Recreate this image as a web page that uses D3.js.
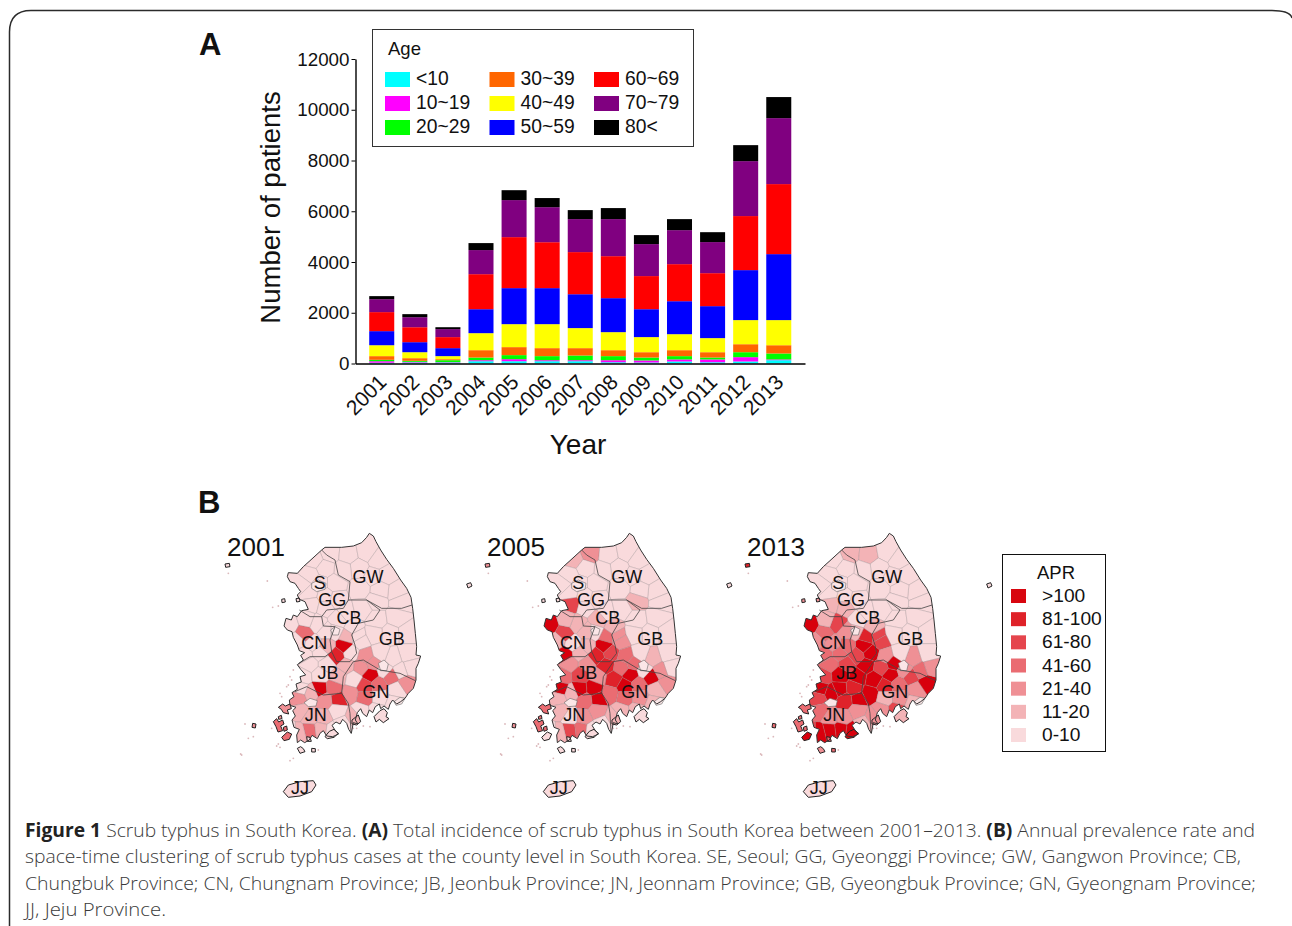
<!DOCTYPE html>
<html>
<head>
<meta charset="utf-8">
<title>Figure 1</title>
<script src="https://d3js.org/d3.v7.min.js"></script>
<style>
  body { margin: 0; background: #fff; }
  svg { display: block; }
  text { font-family: "Liberation Sans", Arial, sans-serif; fill: #111; }
  .caption text, .caption tspan { font-family: "Open Sans", sans-serif; fill: #3a3a3a; }
</style>
</head>
<body>
<svg id="fig" width="1292" height="926"></svg>
<script>
// ---- panel A data (patients per age group)
const years = [2001,2002,2003,2004,2005,2006,2007,2008,2009,2010,2011,2012,2013];
const ageLabels = ["<10","10~19","20~29","30~39","40~49","50~59","60~69","70~79","80<"];
const ageColors = ["#00ffff","#ff00ff","#00ff00","#ff6600","#ffff00","#0000ff","#ff0000","#800080","#000000"];
const under10 = [30,40,40,90,90,90,90,50,40,80,50,80,130];
const age10s  = [60,25,15,40,80,40,40,80,80,80,110,170,30];
const age20s  = [55,40,75,105,160,160,185,160,115,130,75,195,235];
const age30s  = [145,105,40,290,315,315,290,235,210,235,210,315,325];
const age40s  = [430,235,120,670,905,945,790,710,595,630,555,950,990];
const age50s  = [555,395,315,945,1420,1420,1335,1340,1100,1300,1260,1970,2600];
const age60s  = [750,590,435,1380,2010,1810,1660,1655,1305,1460,1300,2130,2760];
const age70s  = [510,395,315,950,1460,1380,1300,1460,1260,1340,1225,2165,2600];
const age80s  = [120,120,75,275,390,360,355,435,355,435,390,630,830];
const ageSeries = [under10,age10s,age20s,age30s,age40s,age50s,age60s,age70s,age80s];
const yTicks = [0,2000,4000,6000,8000,10000,12000];

// ---- panel B data
const mapYears = ["2001","2005","2013"];
const aprLabels = [">100","81-100","61-80","41-60","21-40","11-20","0-10"];
const aprColors = ["#d8060f","#df2229","#e5454d","#ea6c72","#ef9095","#f3b3b6","#f9dadc"];
// county centres in map units (1 unit = 1/3 px), with APR class per map year: 0 = 0-10 ... 6 = >100
const counties = [
  [360,100,0,2,1],[415,105,0,0,1],[470,95,0,0,0],[505,120,0,0,0],[530,165,0,0,0],[445,145,0,0,0],[400,150,0,0,0],
  [490,170,0,0,0],[560,215,0,0,0],[510,210,0,0,0],[450,205,0,0,0],[500,242,0,1,0],[572,245,0,0,0],
  [312,120,0,1,0],[345,145,0,0,0],[300,165,0,0,0],[330,190,0,0,0],[278,195,0,0,0],[375,190,0,0,0],[380,238,0,0,0],
  [300,218,0,0,0],[345,228,0,0,0],[305,252,0,4,1],[345,262,0,0,1],
  [410,278,0,0,0],[455,268,0,0,0],[385,300,0,1,0],[430,322,0,1,1],[375,335,0,0,1],[410,352,1,3,5],[403,377,6,6,6],
  [445,350,0,2,4],
  [238,315,0,6,6],[282,340,3,4,3],[322,310,0,1,4],[290,298,0,1,1],[262,362,0,1,2],[350,335,0,1,2],[350,378,1,1,3],
  [310,372,0,0,2],[285,405,0,6,3],[330,400,0,1,3],[380,407,5,5,4],[422,398,0,4,6],
  [300,432,0,2,3],[350,432,0,2,4],[408,437,1,5,6],[280,470,0,3,4],[330,465,0,4,6],[385,470,1,2,6],[272,506,0,6,6],
  [328,508,6,6,6],[372,505,3,6,5],[385,537,5,6,6],
  [265,535,2,1,4],[305,518,1,1,6],[345,542,2,3,5],[382,572,0,2,2],[272,572,1,1,3],[302,592,1,0,2],[340,592,1,2,2],
  [300,632,3,4,6],[268,640,1,1,6],[332,628,1,3,6],[366,632,0,0,6],[398,612,0,0,1],[243,640,0,0,4],
  [455,442,2,3,4],[482,465,6,6,6],[432,478,0,5,6],[420,522,2,3,6],[465,497,4,6,5],[505,492,3,3,3],[542,468,3,6,4],
  [465,532,3,3,1],[510,532,0,2,2],[560,510,0,1,2],[590,490,2,2,6],[452,572,0,1,2],[500,572,0,1,4],[552,548,0,1,1],
  [432,590,1,1,2],
  [500,300,0,0,0],[560,292,0,0,0],[592,340,0,0,0],[540,342,0,0,0],[492,342,0,0,0],[452,362,0,2,4],[592,402,0,0,0],
  [550,415,0,1,2],[510,400,0,0,0],[468,410,2,3,2],[602,442,0,0,2],[572,452,0,2,3],[490,430,2,3,6],[525,452,0,0,2]
];
// mainland coastline, map units
const coast = [
  [335,90],[345,82],[395,82],[430,78],[455,68],[470,52],[478,40],[490,48],[498,65],[512,90],[530,118],[550,145],
  [572,180],[590,205],[603,232],[608,265],[612,300],[616,340],[620,380],[618,405],[632,408],[625,430],[618,445],
  [618,480],[610,505],[595,520],[585,535],[572,545],[560,552],[548,540],[540,552],[535,568],[522,558],[512,566],
  [508,552],[496,560],[488,578],[478,570],[470,590],[458,580],[452,566],[442,578],[436,600],[444,612],[430,608],
  [424,640],[416,628],[410,610],[398,598],[390,612],[378,606],[366,616],[376,632],[386,642],[368,650],[350,648],
  [340,632],[330,640],[322,656],[306,646],[298,660],[284,668],[272,660],[262,668],[260,645],[268,628],[252,622],
  [246,600],[256,588],[248,572],[258,562],[240,556],[238,540],[252,530],[246,518],[262,508],[258,492],[274,486],
  [270,470],[287,465],[272,448],[262,434],[280,420],[272,406],[284,398],[268,392],[262,375],[250,352],[246,335],
  [232,330],[222,318],[228,295],[244,300],[250,285],[262,290],[275,272],[295,268],[285,245],[268,238],[262,225],
  [272,215],[265,205],[255,190],[240,185],[232,170],[235,158],[262,160],[280,140],[300,122]
];
// province borders, map units
const borders = [
  [[335,90],[350,105],[375,120],[385,165],[420,185],[415,240],[470,240],[515,265],[575,265],[606,255]],
  [[415,240],[400,265],[350,270],[335,290],[300,290],[268,270]],
  [[335,290],[340,318],[375,320],[360,360],[365,395],[345,410],[300,410],[267,430]],
  [[470,240],[510,270],[490,300],[445,310],[425,345],[435,375],[440,400],[420,425],[380,425],[365,395]],
  [[430,425],[400,470],[395,520],[415,550],[420,580],[423,640]],
  [[255,515],[290,500],[340,525],[395,520]],
  [[430,425],[460,420],[510,450],[570,460],[616,482]]
];
// enclosed cities (Seoul, Daejeon, Daegu, Gwangju, Busan side), map units
const cities = [
  [[305,190],[325,180],[348,190],[345,208],[320,215],[305,205]],
  [[362,330],[375,320],[390,328],[385,345],[368,345]],
  [[505,430],[522,420],[535,432],[530,452],[512,452]],
  [[282,548],[300,535],[322,542],[318,558],[295,560]],
  [[552,545],[570,532],[585,535],[575,552],[558,556]]
];
// islands with APR class per map year
const islands = [
  [[[220,815],[235,795],[270,785],[310,782],[318,795],[305,815],[270,828],[235,832]],0,0,0],
  [[[510,572],[522,566],[532,578],[528,590],[537,596],[520,608],[508,598],[498,606],[492,590]],0,0,1],
  [[[426,600],[445,585],[452,605],[440,615],[426,612]],1,1,2],
  [[[190,605],[200,596],[206,606],[218,600],[222,612],[212,618],[218,632],[204,636],[198,620]],3,3,3],
  [[[205,562],[218,552],[226,558],[240,552],[244,566],[232,570],[236,582],[220,578],[214,568]],2,3,3],
  [[[215,652],[232,636],[245,642],[238,658],[222,662]],3,0,6],
  [[[345,650],[358,634],[372,628],[385,640],[372,652],[352,656]],0,0,6],
  [[[262,685],[272,680],[280,686],[285,695],[270,700]],0,0,2],
  [[[305,685],[316,686],[316,696],[305,696]],0,0,3],
  [[[128,610],[138,612],[136,624],[126,622]],2,2,3],
  [[[45,132],[58,130],[60,140],[47,142]],0,2,5],
  [[[770,192],[782,188],[786,198],[774,204]],0,0,0],
  [[[215,238],[224,236],[226,246],[216,248]],0,0,2],
  [[[258,236],[268,234],[270,244],[260,246]],0,0,2],
  [[[290,650],[300,652],[304,664],[292,664]],0,0,3],
  [[[205,590],[214,586],[216,596],[206,598]],2,3,3],
  [[[220,622],[230,618],[232,630],[222,634]],3,3,3]
];
const specks = [
  [55,160],[172,183],[205,258],[188,262],[105,612],[115,655],[95,705],[240,722],[185,625],
  [205,672],[325,690],[250,715],[430,625],[480,620],[230,500],[245,480],[250,450],[210,520],[240,470],[215,530],
  [235,495],[200,678],[210,682],[440,625],[460,618],[130,650],[92,702]
];
// province labels: text, x, baseline in map units
const provLabels = [
  ["S",329,208],["GG",367,258],["GW",474,190],["CB",417,313],["CN",313,388],
  ["GB",545,376],["JB",354,478],["GN",498,534],["JN",317,604],["JJ",270,822]
];
const captionLines = [
  [["Figure 1",1]," Scrub typhus in South Korea. ",["(A)",1]," Total incidence of scrub typhus in South Korea between 2001–2013. ",["(B)",1]," Annual prevalence rate and"],
  ["space-time clustering of scrub typhus cases at the county level in South Korea. SE, Seoul; GG, Gyeonggi Province; GW, Gangwon Province; CB,"],
  ["Chungbuk Province; CN, Chungnam Province; JB, Jeonbuk Province; JN, Jeonnam Province; GB, Gyeongbuk Province; GN, Gyeongnam Province;"],
  ["JJ, Jeju Province."]
];

const svg = d3.select("#fig");

// card frame
svg.append("path")
  .attr("d", "M9.5,926V32Q9.5,10.5 31,10.5H1272Q1290,10.5 1292,18")
  .attr("fill", "none").attr("stroke", "#2b2b2b").attr("stroke-width", 1.5);

// ---------- panel A
const table = years.map((y, i) => {
  const row = {year: y};
  ageLabels.forEach((a, k) => row[a] = ageSeries[k][i]);
  return row;
});
const stacked = d3.stack().keys(ageLabels)(table);

const x = d3.scaleBand().domain(years).range([355.5, 805]).paddingInner(0.244).paddingOuter(0.415);
const y = d3.scaleLinear().domain([0, 12000]).range([363.5, 59]);

const bars = svg.append("g");
bars.selectAll("g").data(stacked).join("g")
  .attr("fill", (d, i) => ageColors[i])
  .selectAll("rect").data(d => d).join("rect")
  .attr("x", d => x(d.data.year))
  .attr("width", x.bandwidth())
  .attr("y", d => y(d[1]))
  .attr("height", d => y(d[0]) - y(d[1]));

const yAxis = svg.append("g").attr("transform", "translate(355.5,0)")
  .call(d3.axisLeft(y).tickValues(yTicks).tickSize(4).tickPadding(2).tickSizeOuter(0).tickFormat(d3.format("d")));
yAxis.selectAll("text").style("font-size", "18.8px");
const xAxis = svg.append("g").attr("transform", "translate(0,363.5)")
  .call(d3.axisBottom(x).tickSize(0).tickSizeOuter(0));
xAxis.selectAll("text")
  .style("font-size", "21px")
  .attr("text-anchor", "end")
  .attr("dy", null)
  .attr("y", 0)
  .attr("transform", d => "translate(6,20) rotate(-45)");
svg.selectAll(".domain").attr("stroke", "#000").attr("stroke-width", 1.4);
svg.selectAll(".tick line").attr("stroke", "#000");

svg.append("text").attr("transform", "translate(280,207.5) rotate(-90)")
  .attr("text-anchor", "middle").style("font-size", "27.5px").text("Number of patients");
svg.append("text").attr("x", 578).attr("y", 454)
  .attr("text-anchor", "middle").style("font-size", "28px").text("Year");
svg.append("text").attr("x", 199).attr("y", 55)
  .style("font-size", "31px").style("font-weight", "bold").text("A");
svg.append("text").attr("x", 198).attr("y", 513)
  .style("font-size", "31px").style("font-weight", "bold").text("B");

// age legend
const ageLegend = svg.append("g");
ageLegend.append("rect").attr("x", 372.5).attr("y", 29.5).attr("width", 321).attr("height", 117)
  .attr("fill", "#fff").attr("stroke", "#333").attr("stroke-width", 1);
ageLegend.append("text").attr("x", 388).attr("y", 55).style("font-size", "18.5px").text("Age");
const legCol = d3.scaleOrdinal().domain([0,1,2]).range([385,489.5,594]);
const legRow = d3.scaleOrdinal().domain([0,1,2]).range([72,96,120]);
const legItem = ageLegend.selectAll("g.item").data(ageLabels).join("g").attr("class", "item")
  .attr("transform", (d, i) => `translate(${legCol(Math.floor(i / 3))},${legRow(i % 3)})`);
legItem.append("rect").attr("width", 25).attr("height", 15).attr("fill", (d, i) => ageColors[i]);
legItem.append("text").attr("x", 31).attr("y", 13).style("font-size", "19.3px").text(d => d);

// ---------- panel B
const defs = svg.append("defs");
defs.append("filter").attr("id", "soft").append("feGaussianBlur").attr("stdDeviation", 0.5);

const unit = d3.scaleLinear().domain([0, 810]).range([0, 270]);
const mapLeft = d3.scaleOrdinal().domain(mapYears).range([210, 470, 730]);
const mapTop = 520;
const classColor = c => aprColors[6 - c];
const pts = d => d.map(p => [unit(p[0]), unit(p[1])]);
const ring = d3.line();
const voronoi = d3.Delaunay.from(counties, d => unit(d[0]), d => unit(d[1])).voronoi([0, 0, 270, 290]);

mapYears.forEach((yr, m) => {
  defs.append("clipPath").attr("id", "coast" + yr)
    .append("path").attr("d", ring(pts(coast)) + "Z");
  const g = svg.append("g").attr("transform", `translate(${mapLeft(yr)},${mapTop})`);
  const land = g.append("g").attr("filter", "url(#soft)");

  const cells = land.append("g").attr("clip-path", `url(#coast${yr})`);
  cells.selectAll("path").data(counties).join("path")
    .attr("d", (d, i) => voronoi.renderCell(i))
    .attr("fill", d => classColor(d[2 + m]))
    .attr("stroke", "#8f8082").attr("stroke-opacity", 0.55).attr("stroke-width", 0.5);

  land.selectAll("path.city").data(cities).join("path").attr("class", "city")
    .attr("d", d => ring(pts(d)) + "Z")
    .attr("fill", "#fbe6e7").attr("stroke", "#666").attr("stroke-width", 0.6);
  land.selectAll("path.island").data(islands).join("path").attr("class", "island")
    .attr("d", d => ring(pts(d[0])) + "Z")
    .attr("fill", d => classColor(d[1 + m]))
    .attr("stroke", "#222").attr("stroke-width", 1);
  land.selectAll("circle.speck").data(specks).join("circle").attr("class", "speck")
    .attr("cx", d => unit(d[0])).attr("cy", d => unit(d[1])).attr("r", 0.9)
    .attr("fill", "#dcb9bc");
  land.selectAll("path.border").data(borders).join("path").attr("class", "border")
    .attr("d", d => ring(pts(d)))
    .attr("fill", "none").attr("stroke", "#444").attr("stroke-width", 0.8);
  land.append("path").attr("d", ring(pts(coast)) + "Z")
    .attr("fill", "none").attr("stroke", "#333").attr("stroke-width", 1);

  const nudge = m === 0 ? 0 : -1.3;
  g.selectAll("text.prov").data(provLabels).join("text").attr("class", "prov")
    .attr("x", d => unit(d[1]) + nudge).attr("y", d => unit(d[2]))
    .attr("text-anchor", "middle").style("font-size", "18px").text(d => d[0]);
  g.append("text").attr("x", 17).attr("y", 36).style("font-size", "26px").text(yr);
});

// APR legend
const aprLegend = svg.append("g");
aprLegend.append("rect").attr("x", 1002.5).attr("y", 554.5).attr("width", 103).attr("height", 197)
  .attr("fill", "#fff").attr("stroke", "#111").attr("stroke-width", 1);
aprLegend.append("text").attr("x", 1056).attr("y", 579).attr("text-anchor", "middle")
  .style("font-size", "18.5px").text("APR");
const aprRow = d3.scalePoint().domain(aprLabels).range([602, 741]);
const aprItem = aprLegend.selectAll("g.item").data(aprLabels).join("g").attr("class", "item")
  .attr("transform", d => `translate(0,${aprRow(d)})`);
aprItem.append("rect").attr("x", 1011).attr("y", -13).attr("width", 15).attr("height", 14)
  .attr("fill", (d, i) => aprColors[i]);
aprItem.append("text").attr("x", 1042).attr("y", 0).style("font-size", "19.2px").text(d => d);

// caption
const capY = d3.scalePoint().domain([0,1,2,3]).range([837, 916]);
const capEnd = [1255, 1241, 1256, 166];
const cap = svg.append("g").attr("class", "caption");
captionLines.forEach((line, i) => {
  const t = cap.append("text").attr("x", 25).attr("y", capY(i)).style("font-size", "19px").style("font-weight", 300)
    .attr("textLength", capEnd[i] - 25).attr("lengthAdjust", "spacingAndGlyphs");
  line.forEach(part => {
    if (Array.isArray(part)) t.append("tspan").style("font-weight", "bold").style("fill", "#222").text(part[0]);
    else t.append("tspan").text(part);
  });
});
</script>
</body>
</html>
